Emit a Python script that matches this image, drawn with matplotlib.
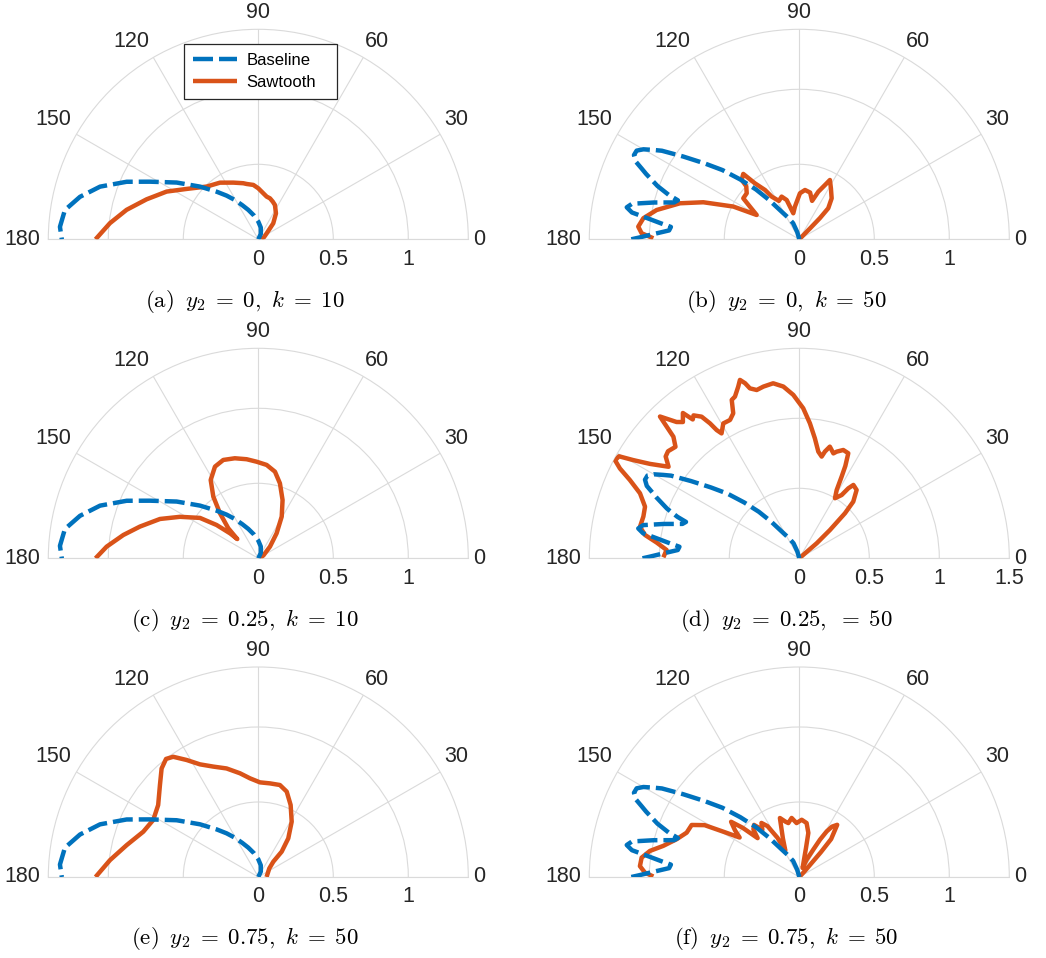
import numpy as np
import matplotlib
matplotlib.use("Agg")
import matplotlib.pyplot as plt
from matplotlib.transforms import offset_copy

W, H = 1046, 958
BLUE = "#0072BD"
ORANGE = "#D95319"
GRID = "#dadada"

# baseline beam patterns (angle in degrees, magnitude)
base_k10_theta = [55, 65, 78, 90, 100, 108.8, 115, 120.8, 126, 131.2, 137.9, 145.2, 152.0,
                  156.4, 161.6, 166.6, 171.4, 176.4, 180]
base_k10_r = [0.0, 0.04, 0.08, 0.118, 0.16, 0.207, 0.25, 0.305, 0.36, 0.422, 0.524, 0.663,
              0.818, 0.958, 1.112, 1.222, 1.304, 1.325, 1.31]

base_k50_theta = [100, 106, 111, 117, 122, 127.5, 131, 134.6, 138, 141.3, 144.5, 147.2, 148.5,
                  150, 151.4, 153, 154.6, 155.8, 156.9, 159.4, 161.2, 162.2, 163.6, 165.8, 168,
                  169.5, 170.9, 172, 173.4, 174.5, 176.1, 177.9, 179.4, 180]
base_k50_r = [0.0, 0.05, 0.115, 0.16, 0.21, 0.33, 0.44, 0.56, 0.69, 0.81, 0.95, 1.09, 1.14,
              1.2, 1.235, 1.237, 1.206, 1.153, 1.11, 1.01, 0.92, 0.85, 0.87, 1.0, 1.14,
              1.17, 1.13, 1.03, 0.93, 0.86, 0.87, 0.97, 1.07, 1.12]

# sawtooth patterns
saw_a_theta = [0, 20, 35.5, 46.9, 55.7, 64.1, 69, 74.1, 78.9, 83.9, 90, 95.2, 101.9, 105,
               113.8, 124.1, 134.4, 144.9, 152.5, 160.3, 167.4, 173.8, 180]
saw_a_r = [0.02, 0.04, 0.069, 0.146, 0.209, 0.254, 0.269, 0.284, 0.29, 0.309, 0.34, 0.364,
           0.377, 0.387, 0.413, 0.456, 0.492, 0.584, 0.689, 0.791, 0.9, 0.995, 1.085]

saw_b_theta = [40, 45.5, 45.8, 47, 51.7, 58.2, 62.7, 64.7, 68.2, 71.6, 77, 83.4, 89.2, 97.6,
               103, 107.8, 112.5, 118, 122.9, 124.8, 128.4, 130.6, 134.1, 135, 138.8, 143.8,
               146.5, 150.3, 153.6, 158.9, 163.2, 168.4, 172.3, 175.5, 177.8, 179.6]
saw_b_r = [0.0, 0.1, 0.197, 0.283, 0.348, 0.4, 0.445, 0.4, 0.342, 0.27, 0.32, 0.331, 0.307,
           0.22, 0.178, 0.275, 0.308, 0.29, 0.339, 0.4, 0.476, 0.574, 0.552, 0.5, 0.466, 0.463,
           0.395, 0.327, 0.491, 0.686, 0.831, 0.971, 1.049, 1.077, 1.052, 0.973]

saw_c_theta = [0, 30, 45, 53.8, 60.7, 67.4, 73.9, 79.1, 84.9, 91, 96.7, 103.2, 109.6, 115.3,
               121.3, 126.1, 130.4, 135, 137.5, 138.5, 141.4, 145.3, 152.1, 158.2, 165, 170.2,
               175.6, 180]
saw_c_r = [0.01, 0.04, 0.11, 0.207, 0.319, 0.421, 0.52, 0.588, 0.625, 0.644, 0.665, 0.685,
           0.696, 0.676, 0.611, 0.509, 0.394, 0.283, 0.19, 0.25, 0.356, 0.473, 0.591, 0.706,
           0.817, 0.913, 1.014, 1.085]

saw_d_theta = [38, 40.8, 42.7, 44.6, 46.4, 50, 53.6, 55, 56.2, 59.3, 61.3, 62.6, 63.5, 65,
               67.9, 70.7, 72, 74.7, 76.5, 77.6, 79.9, 82.6, 85.5, 88.5, 92.1, 95.3, 98.5,
               101.8, 104.2, 106.2, 107.2, 108.4, 109.6, 111.7, 113.1, 114.5, 116.6, 119.4,
               121.9, 122.8, 123.5, 124.6, 126.5, 127.5, 128.7, 130.5, 132, 134.5, 136, 138,
               140.8, 142.7, 145, 147.7, 149.4, 150.5, 152, 153.4, 155.2, 157.8, 161.5, 165,
               168.8, 171.4, 173.7, 176.4, 179.6]
saw_d_r = [0.0, 0.164, 0.298, 0.458, 0.559, 0.637, 0.651, 0.61, 0.544, 0.499, 0.556, 0.657,
           0.737, 0.828, 0.835, 0.807, 0.788, 0.827, 0.784, 0.744, 0.774, 0.864, 0.967, 1.072,
           1.168, 1.232, 1.264, 1.253, 1.24, 1.264, 1.309, 1.343, 1.301, 1.243, 1.23, 1.138,
           1.105, 1.106, 1.051, 1.09, 1.156, 1.229, 1.27, 1.25, 1.33, 1.28, 1.31, 1.42, 1.25,
           1.19, 1.21, 1.2, 1.14, 1.262, 1.378, 1.48, 1.49, 1.433, 1.333, 1.229, 1.162, 1.153,
           1.16, 1.115, 1.025, 0.95, 0.971]

saw_e_theta = [0, 38, 45.6, 47.3, 52.2, 58.9, 65.8, 71.6, 76.8, 82.9, 89, 94.8, 100, 106.3,
               112.2, 117.4, 121.5, 125.3, 128, 131.7, 136.9, 144.3, 151.5, 158.5, 166.4,
               173.5, 180]
saw_e_r = [0.055, 0.093, 0.143, 0.23, 0.326, 0.431, 0.526, 0.6, 0.63, 0.629, 0.631, 0.66,
           0.702, 0.754, 0.795, 0.846, 0.915, 0.982, 0.999, 0.969, 0.898, 0.822, 0.797, 0.824,
           0.903, 0.995, 1.085]

saw_f_theta = [40, 47, 49, 50, 54, 57, 59, 61, 63, 67, 70, 77, 78.4, 82.3, 87.6, 92.9, 97.4,
               101.5, 104, 108.2, 113, 117.8, 119.1, 122, 125, 128, 131, 134, 137, 139, 141,
               144, 146.5, 149, 151.3, 154.2, 158.5, 162.9, 167.1, 170.1, 173, 176.1, 178.4,
               179.8]
saw_f_r = [0.0, 0.05, 0.22, 0.33, 0.43, 0.4, 0.355, 0.285, 0.205, 0.126, 0.064, 0.198, 0.3,
           0.363, 0.382, 0.36, 0.397, 0.367, 0.38, 0.414, 0.28, 0.2, 0.3, 0.4, 0.44, 0.4, 0.46,
           0.44, 0.38, 0.5, 0.585, 0.53, 0.477, 0.58, 0.72, 0.797, 0.807, 0.856, 0.93, 1.011,
           1.059, 1.065, 1.029, 0.973]

captions = [
    r"(a)$\,$ $y_2 \;=\; 0$,$\,$ $k \;=\; 10$",
    r"(b)$\,$ $y_2 \;=\; 0$,$\,$ $k \;=\; 50$",
    r"(c)$\,$ $y_2 \;=\; 0.25$,$\,$ $k \;=\; 10$",
    r"(d)$\,$ $y_2 \;=\; 0.25$,$\,$ $=\; 50$",
    r"(e)$\,$ $y_2 \;=\; 0.75$,$\,$ $k \;=\; 50$",
    r"(f)$\,$ $y_2 \;=\; 0.75$,$\,$ $k \;=\; 50$",
]
rmax_values = [1.4, 1.4, 1.4, 1.5, 1.4, 1.4]
base_curves = [(base_k10_theta, base_k10_r), (base_k50_theta, base_k50_r)] * 3
saw_curves = [(saw_a_theta, saw_a_r), (saw_b_theta, saw_b_r), (saw_c_theta, saw_c_r),
              (saw_d_theta, saw_d_r), (saw_e_theta, saw_e_r), (saw_f_theta, saw_f_r)]

# angle label placement: (dx, dy, ha) in pixels from the outer arc
ANGLE_LABELS = {0: (5, 0, "left"), 30: (4, 15, "left"), 60: (2, 16, "left"),
                90: (0, 17, "center"), 120: (-4, 16, "right"), 150: (-5, 15, "right"),
                180: (-8, 0, "right")}

plt.rcParams.update({"font.family": ["Liberation Sans", "DejaVu Sans"],
                     "mathtext.fontset": "cm"})

fig = plt.figure(figsize=(W / 100, H / 100), dpi=100, facecolor="white")

col_x = [258.3, 799.3]
row_y = [239.3, 558.3, 877.0]
cap_x = [245, 786]
cap_y = [302, 620, 938]
R = 210

for i in range(6):
    row, col = divmod(i, 2)
    cx, cy = col_x[col], row_y[row]
    rmax = rmax_values[i]
    # a half-polar wedge is fitted into a square box centred R/2 above the origin
    rect = [(cx - R) / W, (H - cy - R / 2) / H, 2 * R / W, 2 * R / H]
    ax = fig.add_axes(rect, projection="polar")
    ax.set_facecolor("none")
    ax.set_thetamin(0)
    ax.set_thetamax(180)
    ax.set_rlim(0, rmax)
    ax.set_xticks(np.deg2rad(np.arange(0, 181, 30)))
    ax.set_xticklabels([""] * 7)
    ax.set_yticks([0.5, 1.0])
    ax.set_yticklabels(["", ""])
    ax.tick_params(length=0)
    ax.grid(color=GRID, linewidth=0.8)
    for spine in ax.spines.values():
        spine.set_color(GRID)
        spine.set_linewidth(0.8)

    st, sr = saw_curves[i]
    bt, br = base_curves[i]
    ax.plot(np.deg2rad(st), sr, color=ORANGE, linewidth=3.2, label="Sawtooth", zorder=3,
            solid_joinstyle="round", solid_capstyle="butt")
    ax.plot(np.deg2rad(bt), br, color=BLUE, linewidth=3.2, linestyle=(0, (4.5, 1.35)),
            dash_capstyle="butt", dash_joinstyle="round", label="Baseline", zorder=4)

    for ang, (dx, dy, ha) in ANGLE_LABELS.items():
        tr = offset_copy(ax.transData, fig=fig, x=dx, y=dy, units="dots")
        ax.text(np.deg2rad(ang), rmax, str(ang), transform=tr, ha=ha, va="center",
                fontsize=15.5, color="#262626", clip_on=False)
    rlabels = [0, 0.5, 1] + ([1.5] if rmax > 1.45 else [])
    for rv in rlabels:
        tr = offset_copy(ax.transData, fig=fig, x=0, y=-20, units="dots")
        ax.text(0, rv, f"{rv:g}", transform=tr, ha="center", va="center",
                fontsize=15.5, color="#262626", clip_on=False)

    if i == 0:
        handles, labels = ax.get_legend_handles_labels()
        leg = ax.legend(handles[::-1], labels[::-1], loc="upper left",
                        bbox_to_anchor=(184 / W, (H - 99) / H, 153 / W, 55 / H),
                        bbox_transform=fig.transFigure, mode="expand",
                        fontsize=12, frameon=True, fancybox=False, edgecolor="#262626",
                        framealpha=1, borderaxespad=0, borderpad=0.55, labelspacing=0.4,
                        handlelength=2.6, handletextpad=0.6)
        leg.get_frame().set_linewidth(0.9)
        leg.set_zorder(10)

    fig.text(cap_x[col] / W, 1 - cap_y[row] / H, captions[i], ha="center", va="center",
             fontsize=16.5, family="cmr10")

fig.savefig("out.png", dpi=100, facecolor="white")
